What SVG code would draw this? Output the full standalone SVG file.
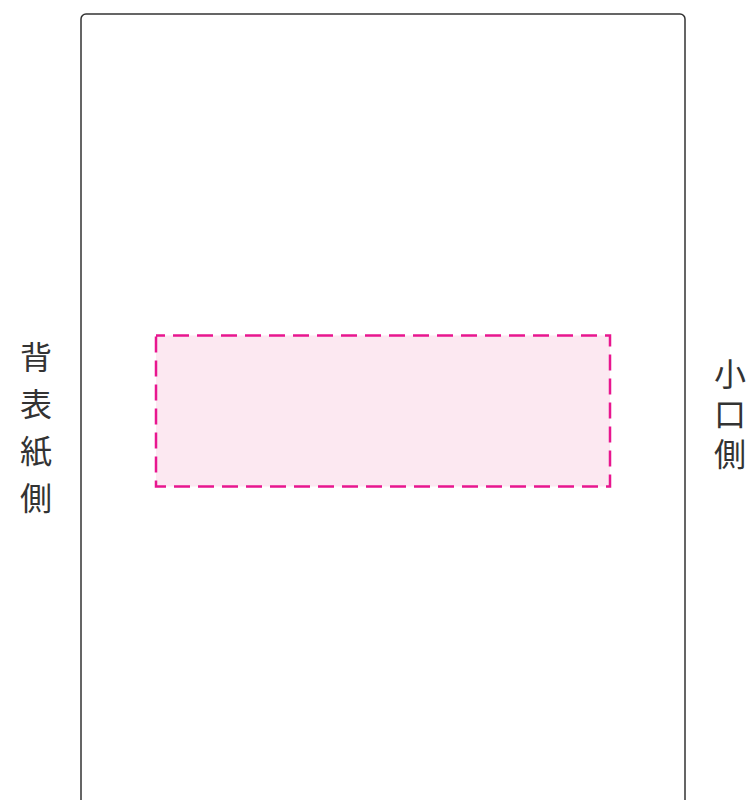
<svg xmlns="http://www.w3.org/2000/svg" width="749" height="800" viewBox="0 0 749 800">
<style>
.lbl{font-family:"Noto Sans CJK JP","Noto Sans CJK SC",sans-serif;font-size:32px;fill:#333;writing-mode:vertical-rl}
</style>
<rect width="749" height="800" fill="#fff"/>
<g id="page">
<rect x="81" y="14" width="604" height="820" rx="5" fill="none" stroke="#333" stroke-width="1.5"/>
</g>
<g id="area">
<rect x="156" y="335.5" width="454" height="151" fill="#fce8f1" stroke="#e8168f" stroke-width="2.5" stroke-dasharray="16 8" stroke-dashoffset="7"/>
</g>
<g id="label-left">
<text class="lbl" x="36" y="341" letter-spacing="15">背表紙側</text>
</g>
<g id="label-right">
<text class="lbl" x="730" y="358" letter-spacing="8">小口側</text>
</g>
<g id="connectors"></g>
</svg>
